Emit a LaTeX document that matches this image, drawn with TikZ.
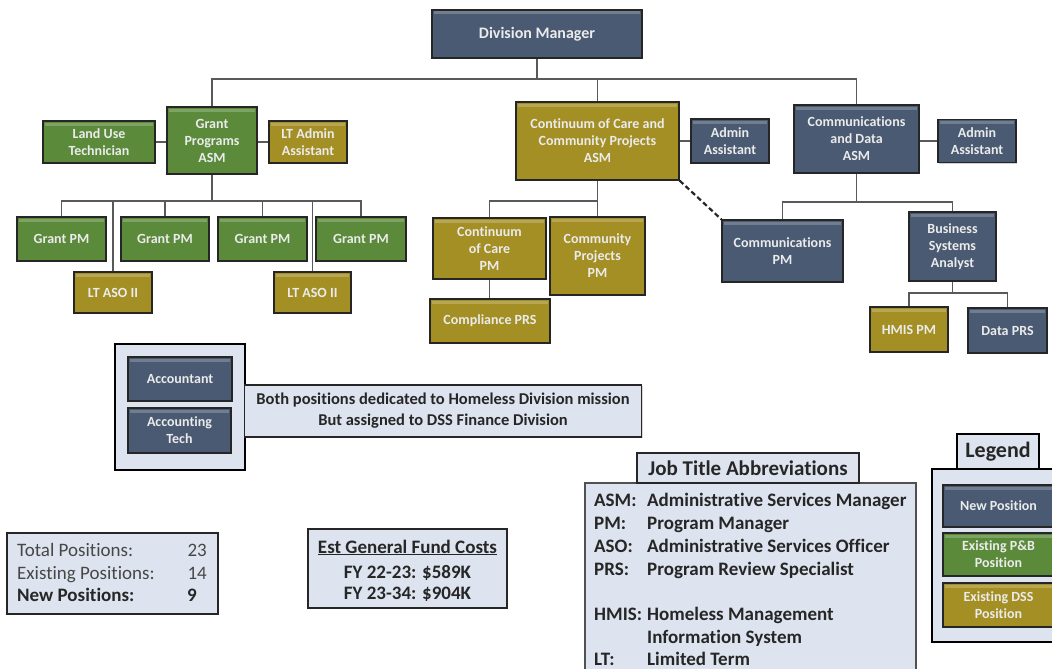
\documentclass[tikz,border=0pt]{standalone}
\usepackage{fontspec}
\setmainfont{Carlito}[Ligatures=NoCommon]
\usetikzlibrary{shadows}
\definecolor{navy}{HTML}{4A5A72}
\definecolor{grn}{HTML}{5A8A3A}
\definecolor{olive}{HTML}{A38F24}
\definecolor{pale}{HTML}{DDE4EF}
\definecolor{edge}{HTML}{262626}
\definecolor{conn}{HTML}{595959}
\tikzset{
  bevel/.style={path picture={\fill[white,opacity=0.22]
      ([xshift=2pt,yshift=-1.5pt]path picture bounding box.north west) rectangle
      ([xshift=-2pt,yshift=-4.5pt]path picture bounding box.north east);}},
  posbox/.style={draw=edge, line width=1.3pt, align=center, inner sep=1pt,
    font=\fontsize{14}{17}\selectfont\bfseries, text=white!92!black,
    drop shadow={shadow xshift=1pt, shadow yshift=-1pt, opacity=0.35}, bevel},
  newp/.style={posbox, fill=navy},
  pb/.style={posbox, fill=grn},
  dss/.style={posbox, fill=olive},
  link/.style={draw=conn, line width=1.4pt},
  lightbox/.style={draw=edge, line width=1.5pt, fill=pale, inner sep=1pt,
    drop shadow={shadow xshift=1pt, shadow yshift=-1pt, opacity=0.3}},
  heavybox/.style={draw=black, line width=2.4pt, fill=pale},
  abbr/.style={font=\fontsize{19}{23}\selectfont\bfseries, anchor=base west, inner sep=0pt, text=edge},
  tot/.style={font=\fontsize{19}{23}\selectfont, inner sep=0pt, text=edge!85!white},
  cost/.style={font=\fontsize{19}{23}\selectfont\bfseries, anchor=base, inner sep=0pt, text=edge},
}
\begin{document}
\begin{tikzpicture}[x=1pt,y=-1pt]
\useasboundingbox (0,0) rectangle (1052,669);
\clip (0,0) rectangle (1052,669);
\fill[white] (0,0) rectangle (1052,669);

% ---------- top level ----------
\node[newp, minimum width=210pt, minimum height=48pt, font=\fontsize{16}{19}\selectfont\bfseries] (dm) at (537,34) {Division Manager};

% Grant programs branch
\node[pb, minimum width=90pt, minimum height=67pt] (gpasm) at (212,140.5) {Grant\\Programs\\ASM};
\node[pb, minimum width=112pt, minimum height=42pt] (lut) at (99,142) {Land Use\\Technician};
\node[dss, minimum width=78pt, minimum height=42pt] (ltaa) at (308,142) {LT Admin\\Assistant};
\node[pb, minimum width=89pt, minimum height=44pt] (gpm1) at (61.5,239) {Grant PM};
\node[pb, minimum width=88pt, minimum height=44pt] (gpm2) at (165,239) {Grant PM};
\node[pb, minimum width=89pt, minimum height=44pt] (gpm3) at (262.5,239) {Grant PM};
\node[pb, minimum width=90pt, minimum height=44pt] (gpm4) at (361,239) {Grant PM};
\node[dss, minimum width=78pt, minimum height=41pt] (aso1) at (113,292.5) {LT ASO II};
\node[dss, minimum width=77pt, minimum height=41pt] (aso2) at (312.5,292.5) {LT ASO II};

% Continuum of care branch
\node[dss, minimum width=163pt, minimum height=78pt] (cocasm) at (597.5,141) {Continuum of Care and\\Community Projects\\ASM};
\node[newp, minimum width=78pt, minimum height=44pt] (aa1) at (730,141) {Admin\\Assistant};
\node[dss, minimum width=113pt, minimum height=61pt] (cocpm) at (489.5,248.5) {Continuum\\of Care\\PM};
\node[dss, minimum width=95pt, minimum height=78pt] (cppm) at (597.5,256) {Community\\Projects\\PM};
\node[dss, minimum width=120pt, minimum height=44pt] (comp) at (490,321) {Compliance PRS};

% Communications branch
\node[newp, minimum width=125pt, minimum height=68pt] (comasm) at (856.5,139) {Communications\\and Data\\ASM};
\node[newp, minimum width=78pt, minimum height=43pt] (aa2) at (977,141) {Admin\\Assistant};
\node[newp, minimum width=121pt, minimum height=62pt] (commpm) at (782.5,251) {Communications\\PM};
\node[newp, minimum width=87pt, minimum height=69pt] (bsa) at (952.5,246.5) {Business\\Systems\\Analyst};
\node[dss, minimum width=78pt, minimum height=45pt] (hmis) at (909,329.5) {HMIS PM};
\node[newp, minimum width=79pt, minimum height=45pt] (dprs) at (1007.5,330.5) {Data PRS};

% ---------- connectors ----------
\coordinate (b1) at (537,79);
\coordinate (b2) at (212,201);
\coordinate (b3) at (597.5,201);
\coordinate (b4) at (856.5,202);
\coordinate (b5) at (952.5,293);
\draw[link] (dm.south) -- (dm.south |- b1);
\draw[link] (gpasm.north) |- (b1) -| (comasm.north);
\draw[link] (cocasm.north) -- (cocasm.north |- b1);
\draw[link] (lut.east) -- (lut.east -| gpasm.west);
\draw[link] (ltaa.west) -- (ltaa.west -| gpasm.east);
\draw[link] (gpasm.south) -- (b2);
\draw[link] (gpm1.north) |- (b2) -| (gpm4.north);
\draw[link] (gpm2.north) -- (gpm2.north |- b2);
\draw[link] (gpm3.north) -- (gpm3.north |- b2);
\draw[link] (aso1.north) -- (aso1.north |- b2);
\draw[link] (aso2.north) -- (aso2.north |- b2);
\draw[link] (aa1.west) -- (aa1.west -| cocasm.east);
\draw[link] (cocasm.south) -- (cppm.north);
\draw[link] (cocpm.north) |- (b3);
\draw[link] (cocpm.south) -- (cocpm.south |- comp.north);
\draw[link, draw=edge, line width=2.2pt, dash pattern=on 5pt off 3pt] (cocasm.south east) -- (commpm.north west);
\draw[link] (aa2.west) -- (aa2.west -| comasm.east);
\draw[link] (comasm.south) -- (b4);
\draw[link] (commpm.north) |- (b4) -| (bsa.north);
\draw[link] (bsa.south) -- (b5);
\draw[link] (hmis.north) |- (b5) -| (dprs.north);

% ---------- accounting group ----------
\node[heavybox, minimum width=130pt, minimum height=126pt] (accgrp) at (180,407) {};
\node[newp, minimum width=104pt, minimum height=44pt] (acct) at (180,379) {Accountant};
\node[newp, minimum width=103pt, minimum height=45pt] (accttech) at (179.5,430.5) {Accounting\\Tech};
\node[lightbox, minimum width=397pt, minimum height=52pt, align=center,
  font=\fontsize{16.5}{21}\selectfont\bfseries, text=edge] (note) at (443,411)
  {Both positions dedicated to Homeless Division mission\\But assigned to DSS Finance Division};

% ---------- totals ----------
\node[lightbox, minimum width=211pt, minimum height=81pt] (totbox) at (112.5,573.5) {};
\node[tot, anchor=base west] (t1) at (17,556) {Total Positions:};
\node[tot, anchor=base west] (t2) at (17,579) {Existing Positions:};
\node[tot, anchor=base west, font=\fontsize{19}{23}\selectfont\bfseries, text=edge] (t3) at (17,601) {New Positions:};
\node[tot, anchor=base east] (n1) at (207,556) {23};
\node[tot, anchor=base east] (n2) at (207,579) {14};
\node[tot, anchor=base east, font=\fontsize{19}{23}\selectfont\bfseries, text=edge] (n3) at (197,601) {9};

% ---------- costs ----------
\node[lightbox, minimum width=199pt, minimum height=79pt] (costbox) at (407.5,568.5) {};
\node[cost] (c1) at (407.5,553) {\underline{Est General Fund Costs}};
\node[cost] (c2) at (407.5,578) {FY 22-23: \$589K};
\node[cost] (c3) at (407.5,599) {FY 23-34: \$904K};

% ---------- abbreviations ----------
\node[lightbox, draw=edge!80!white, minimum width=331pt, minimum height=217pt] (abbox) at (750.5,591.5) {};
\node[lightbox, minimum width=222pt, minimum height=30pt, font=\fontsize{21}{24}\selectfont\bfseries, text=edge] (abtab) at (748,468) {Job Title Abbreviations};
\node[abbr] (k1) at (594,506) {ASM:};
\node[abbr] (k2) at (594,529) {PM:};
\node[abbr] (k3) at (594,552) {ASO:};
\node[abbr] (k4) at (594,575) {PRS:};
\node[abbr] (k5) at (594,620) {HMIS:};
\node[abbr] (k6) at (594,665) {LT:};
\node[abbr] (d1) at (647,506) {Administrative Services Manager};
\node[abbr] (d2) at (647,529) {Program Manager};
\node[abbr] (d3) at (647,552) {Administrative Services Officer};
\node[abbr] (d4) at (647,575) {Program Review Specialist};
\node[abbr] (d5) at (647,620) {Homeless Management};
\node[abbr] (d6) at (647,643) {Information System};
\node[abbr] (d7) at (647,665) {Limited Term};

% ---------- legend ----------
\node[heavybox, minimum width=133pt, minimum height=173pt] (legbox) at (998.5,555.5) {};
\node[heavybox, line width=1.8pt, minimum width=82pt, minimum height=35pt, font=\fontsize{22}{24}\selectfont\bfseries, text=edge, inner sep=0pt] (legtab) at (998,451.5) {Legend};
\node[newp, minimum width=111pt, minimum height=42pt] (l1) at (998.5,506) {New Position};
\node[pb, minimum width=111pt, minimum height=43pt] (l2) at (998.5,554.5) {Existing P\&B\\Position};
\node[dss, minimum width=111pt, minimum height=44pt] (l3) at (998.5,605) {Existing DSS\\Position};
\end{tikzpicture}
\end{document}
